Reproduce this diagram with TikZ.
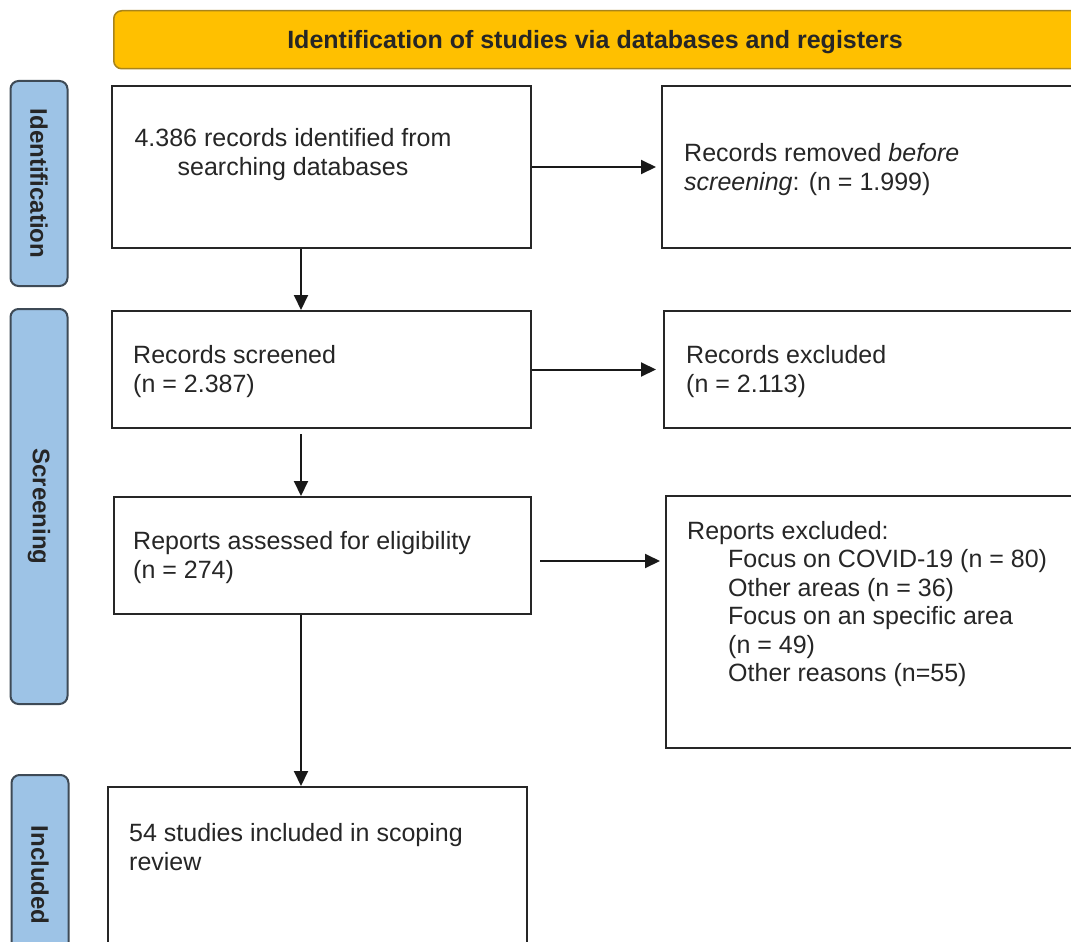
\documentclass[tikz,border=0pt]{standalone}
\usepackage{fontspec}
\setmainfont{Liberation Sans}
\usetikzlibrary{arrows.meta,positioning}

\definecolor{bannerfill}{HTML}{FFC000}
\definecolor{bannerline}{HTML}{A8841C}
\definecolor{phasefill}{HTML}{9DC3E6}
\definecolor{phaseline}{HTML}{3E4A56}

\tikzset{
  box/.style={draw=black!85, line width=2pt, anchor=north west, inner sep=0pt},
  txt/.style={anchor=north west, inner sep=0pt, align=left, font=\fontsize{25}{29.5}\selectfont, text=black!85},
  phase/.style={draw=phaseline, fill=phasefill, line width=2pt, rounded corners=8pt, rotate=-90,
    minimum height=57pt, inner sep=0pt, font=\fontsize{24}{29}\selectfont\bfseries, text=black!85},
  flow/.style={-{Triangle[length=15pt,width=14pt]}, line width=2pt, black!90},
}

\begin{document}
\begin{tikzpicture}[x=1pt, y=-1pt]
    \clip (0,0) rectangle (1071,942);
    \fill[white] (0,0) rectangle (1071,942);

    % Bandeau
    \node[draw=bannerline, fill=bannerfill, line width=1.5pt, rounded corners=8pt, anchor=north west,
      minimum width=1000pt, minimum height=58pt] (banner) at (113,10) {};
    \node[font=\fontsize{25}{30}\selectfont\bfseries, text=black!85] (bannertitle) at (595,42)
      {Identification of studies via databases and registers};

    % Phases
    \node[phase, minimum width=205pt] (idphase) at (39,183.5) {Identification};
    \node[phase, minimum width=395pt] (scphase) at (39,506.5) {Screening};
    \node[phase, minimum width=200pt] (inphase) at (40,875) {Included};

    % Cadres
    \node[box, minimum width=419pt, minimum height=162pt] (ident) at (111,85) {};
    \node[box, minimum width=450pt, minimum height=162pt] (removed) at (661,85) {};
    \node[box, minimum width=419pt, minimum height=117pt] (screened) at (111,310) {};
    \node[box, minimum width=450pt, minimum height=117pt] (excluded) at (663,310) {};
    \node[box, minimum width=417pt, minimum height=117pt] (assessed) at (113,496) {};
    \node[box, minimum width=450pt, minimum height=252pt] (repexcl) at (665,495) {};
    \node[box, minimum width=419pt, minimum height=200pt] (included) at (107,786) {};

    % Textes
    \node[txt, anchor=north, align=center] (identtxt) at (293,128) {4.386 records identified from\\searching databases};
    \node[txt] (removedtxt) at (684,143) {Records removed \textit{before}\\\textit{screening}: (n = 1.999)};
    \node[txt] (screenedtxt) at (133,345) {Records screened\\(n = 2.387)};
    \node[txt] (excludedtxt) at (686,345) {Records excluded\\(n = 2.113)};
    \node[txt] (assessedtxt) at (133,531) {Reports assessed for eligibility\\(n = 274)};
    \node[txt, font=\fontsize{25}{28.5}\selectfont] (repexcltxt) at (687,521) {Reports excluded:\\
      \hspace*{41pt}Focus on COVID-19 (n = 80)\\
      \hspace*{41pt}Other areas (n = 36)\\
      \hspace*{41pt}Focus on an specific area\\
      \hspace*{41pt}(n = 49)\\
      \hspace*{41pt}Other reasons (n=55)};
    \node[txt] (includedtxt) at (129,823) {54 studies included in scoping\\review};

    % Fleches
    \draw[flow] ([xshift=-20.5pt]ident.south) -- ([xshift=-20.5pt]screened.north);
    \draw[flow, shorten <=5pt] ([xshift=-20.5pt]screened.south) -- ([xshift=-21.5pt]assessed.north);
    \draw[flow] ([xshift=-21.5pt]assessed.south) -- ([xshift=-16.5pt]included.north);
    \draw[flow, shorten >=5pt] (ident.east) -- (ident.east -| removed.west);
    \draw[flow, shorten >=7pt] (screened.east) -- (screened.east -| excluded.west);
    \draw[flow, shorten <=8pt, shorten >=5pt] ([yshift=-5.5pt]assessed.east) -- ([yshift=-5.5pt]assessed.east -| repexcl.west);
\end{tikzpicture}
\end{document}
